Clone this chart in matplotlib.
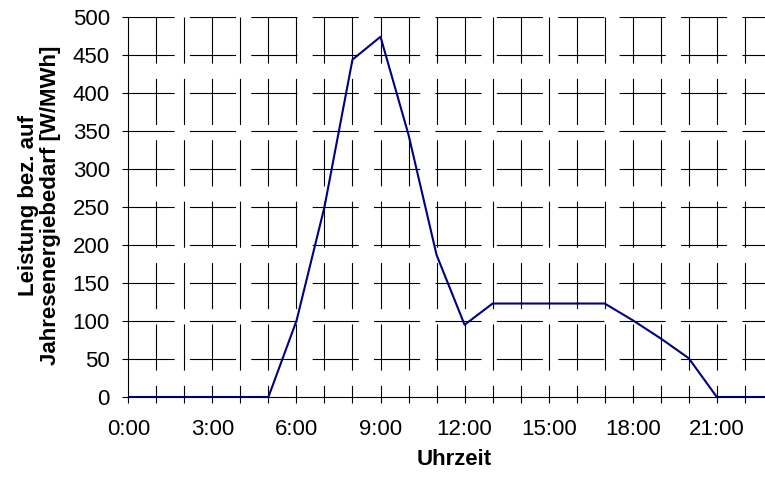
import numpy as np
import matplotlib
matplotlib.use("Agg")
import matplotlib.pyplot as plt

plt.rcParams["font.family"] = ["Liberation Sans", "DejaVu Sans"]
plt.rcParams["lines.scale_dashes"] = False

# stündliche Leistung bez. auf Jahresenergiebedarf
stunden = list(range(0, 24))
leistung = [0, 0, 0, 0, 0, 0, 100, 250, 444, 474, 345, 187,
            95, 123, 123, 123, 123, 123, 101, 77, 51, 0, 0, 0]
xtick_labels = ["0:00", "3:00", "6:00", "9:00", "12:00", "15:00", "18:00", "21:00"]
yticks = list(range(0, 501, 50))

fig = plt.figure(figsize=(7.65, 4.79), dpi=100)
ax = fig.add_axes([0.1677, 0.1712, 0.8323, 0.7933])

ax.set_xlim(0, 22.72)
ax.set_ylim(0, 500)

# gebrochenes Gitter wie im Original
dash = (0, (33.2, 11.0))
for y in yticks[1:]:
    ax.axhline(y, color="black", lw=0.8, linestyle=dash, zorder=1)
for h in stunden[1:23]:
    ax.axvline(h, ymin=1, ymax=0, color="black", lw=0.8, linestyle=dash, zorder=1)

ax.plot(stunden, leistung, color="#000080", lw=1.5, zorder=3)

ax.set_xticks(stunden[:23])
ax.set_xticklabels([xtick_labels[i // 3] if i % 3 == 0 else "" for i in stunden[:23]])
ax.set_yticks(yticks)
ax.tick_params(axis="both", direction="out", length=4.3, width=0.8,
               labelsize=16, color="black")
ax.tick_params(axis="x", pad=11.5)
ax.tick_params(axis="y", pad=9)

for s in ["top", "right"]:
    ax.spines[s].set_visible(False)
for s in ["left", "bottom"]:
    ax.spines[s].set_linewidth(0.8)

ax.set_xlabel("Uhrzeit", fontsize=16, fontweight="bold")
ax.set_ylabel("Leistung bez. auf\nJahresenergiebedarf [W/MWh]", fontsize=16,
              fontweight="bold", linespacing=1.05)
ax.xaxis.set_label_coords(0.5115, -0.137)
ax.yaxis.set_label_coords(-0.106, 0.505)

fig.savefig("out.png", dpi=100)
